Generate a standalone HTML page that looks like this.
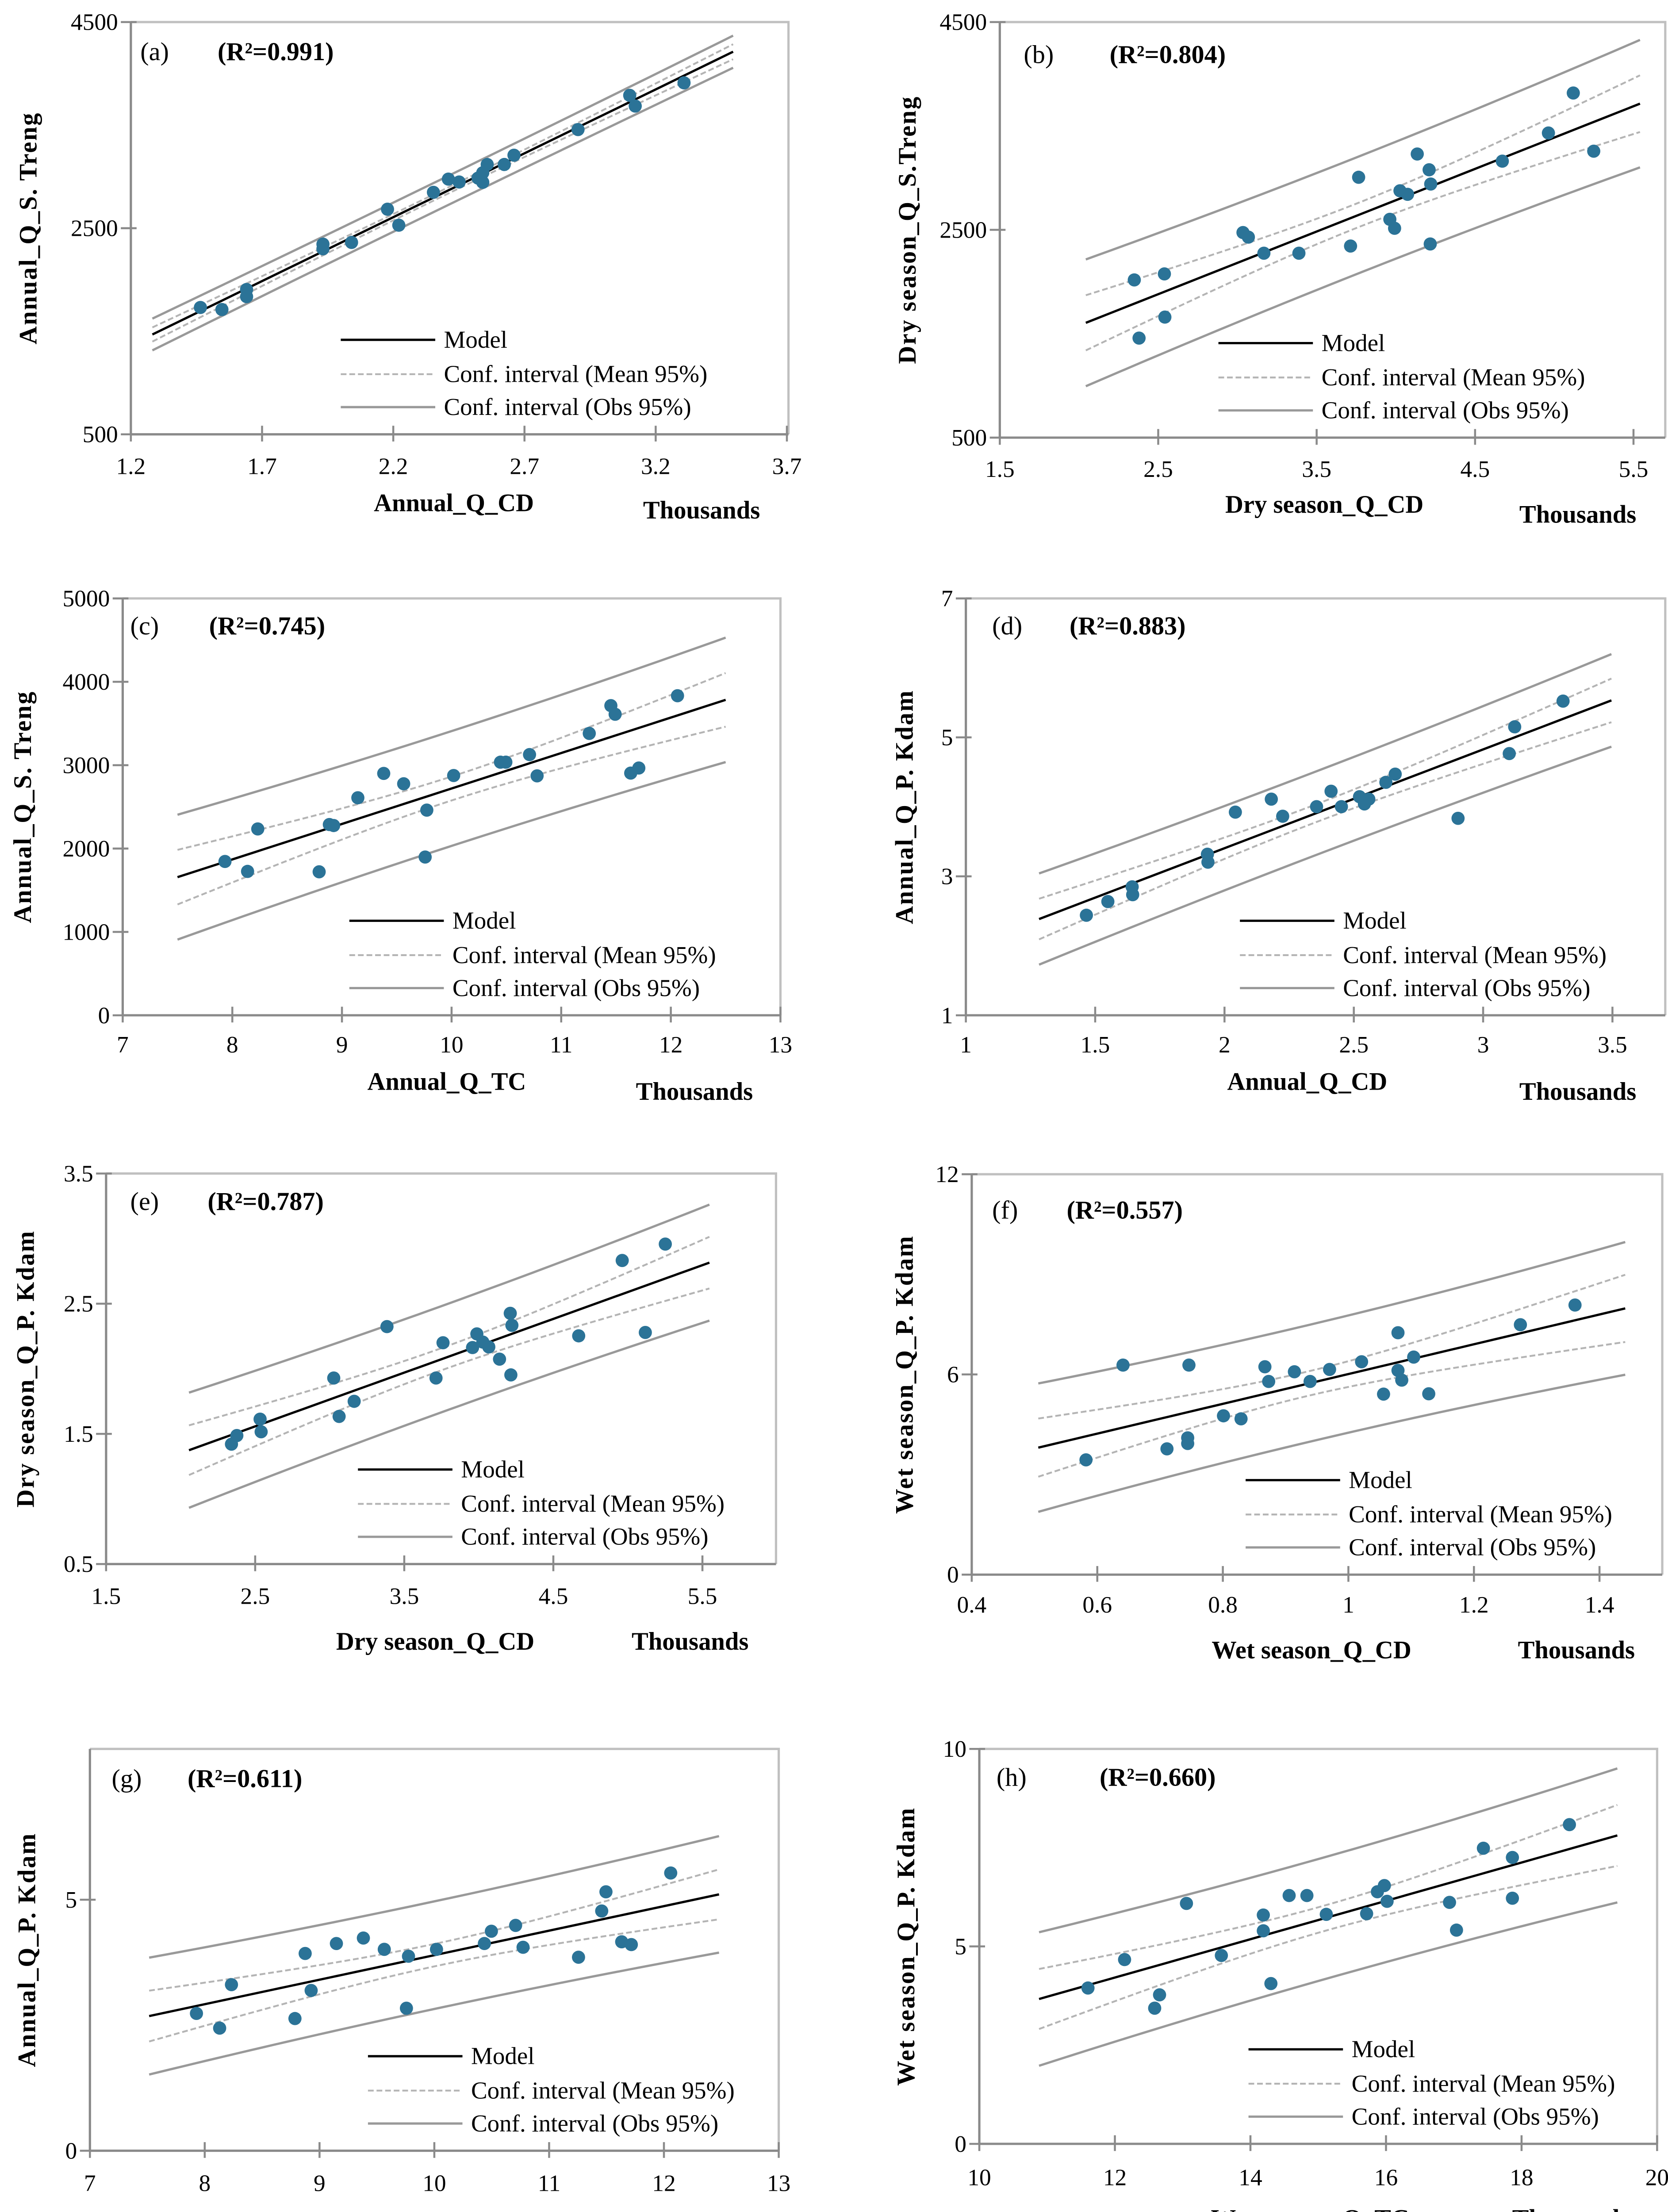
<!DOCTYPE html>
<html><head><meta charset="utf-8"><title>Regression panels</title>
<style>
html,body{margin:0;padding:0;background:#fff;}
svg{display:block;}
text{font-family:"Liberation Serif",serif;fill:#000;}
</style></head>
<body>
<svg id="chart" xmlns="http://www.w3.org/2000/svg" width="3771" height="5080" viewBox="0 0 1165 1569.4">
<rect x="0" y="0" width="1165" height="1569.4" fill="#fff"/>
</svg>
<script>
// ---- data (thousands on x) ----
const aX=[1.465,1.547,1.641,1.641,1.932,1.932,2.041,2.178,2.221,2.353,2.410,2.451,2.523,2.541,2.541,2.558,2.623,2.660,2.904,3.101,3.122,3.308];
const aY=[1731,1711,1905,1836,2345,2300,2362,2684,2529,2848,2976,2948,2986,2945,3038,3118,3118,3208,3457,3789,3685,3910];
const bX=[2.349,2.539,2.379,2.542,3.035,3.069,3.167,3.388,3.765,3.714,3.962,3.992,4.026,4.074,4.135,4.210,4.220,4.217,4.672,4.963,5.120,5.249];
const bY=[2018,2076,1458,1660,2474,2430,2275,2275,3006,2344,2601,2515,2876,2842,3230,3078,2941,2364,3161,3432,3817,3257];
const cX=[7.933,8.139,8.232,8.792,8.885,8.924,9.145,9.381,9.563,9.774,9.759,10.019,10.446,10.495,10.711,10.780,11.256,11.453,11.492,11.634,11.708,12.061];
const cY=[1845,1726,2235,1721,2288,2276,2609,2901,2777,2461,1898,2876,3036,3036,3127,2872,3381,3714,3611,2905,2966,3833];
const dX=[1.466,1.549,1.643,1.645,1.934,1.936,2.042,2.181,2.225,2.356,2.412,2.452,2.522,2.541,2.558,2.624,2.660,2.903,3.101,3.122,3.309];
const dY=[2.440,2.637,2.849,2.736,3.318,3.204,3.924,4.111,3.865,4.003,4.225,4.003,4.146,4.042,4.111,4.353,4.471,3.835,4.767,5.152,5.522];
const eX=[2.341,2.377,2.533,2.540,3.027,3.063,3.164,3.384,3.713,3.760,3.958,3.987,4.027,4.067,4.139,4.211,4.222,4.215,4.670,4.962,5.117,5.251];
const eY=[1.421,1.487,1.613,1.516,1.929,1.634,1.750,2.324,1.929,2.200,2.163,2.268,2.205,2.168,2.074,2.426,2.334,1.953,2.253,2.832,2.279,2.958];
const fX=[0.582,0.641,0.711,0.744,0.744,0.746,0.801,0.829,0.867,0.873,0.914,0.939,0.970,1.021,1.056,1.079,1.079,1.085,1.104,1.128,1.274,1.361];
const fY=[3.44,6.28,3.77,4.10,3.93,6.28,4.76,4.67,6.23,5.79,6.08,5.79,6.15,6.38,5.41,7.25,6.12,5.83,6.52,5.42,7.49,8.08];
const gX=[7.928,8.130,8.233,8.786,8.875,8.927,9.147,9.382,9.564,9.775,9.757,10.019,10.436,10.497,10.708,10.773,11.256,11.458,11.495,11.632,11.716,12.059];
const gY=[2.735,2.442,3.308,2.633,3.929,3.192,4.127,4.236,4.011,3.874,2.838,4.011,4.127,4.372,4.488,4.052,3.854,4.775,5.157,4.161,4.106,5.532];
const hX=[11.603,12.143,12.587,12.659,13.056,13.571,14.190,14.190,14.302,14.571,14.833,15.119,15.714,15.873,15.976,16.016,16.937,17.040,17.437,17.865,17.865,18.706];
const hY=[3.946,4.666,3.435,3.773,6.088,4.770,5.794,5.395,4.059,6.288,6.288,5.811,5.828,6.383,6.540,6.141,6.114,5.412,7.485,7.251,6.219,8.083];
// tick labels
const aXT=[1.2,1.7,2.2,2.7,3.2,3.7], aYT=[500,2500,4500];
const bXT=[1.5,2.5,3.5,4.5,5.5], bYT=[500,2500,4500];
const cXT=[7,8,9,10,11,12,13], cYT=[0,1000,2000,3000,4000,5000];
const dXT=[1,1.5,2,2.5,3,3.5], dYT=[1,3,5,7];
const eXT=[1.5,2.5,3.5,4.5,5.5], eYT=[0.5,1.5,2.5,3.5];
const fXT=[0.4,0.6,0.8,1,1.2,1.4], fYT=[0,6,12];
const gXT=[7,8,9,10,11,12,13], gYT=[0,5];
const hXT=[10,12,14,16,18,20], hYT=[0,5,10];
const r2Labels=["0.991","0.804","0.745","0.883","0.787","0.557","0.611","0.660"];

const NS="http://www.w3.org/2000/svg";
const svg=document.getElementById('chart');
function mk(tag,attrs,parent){const e=document.createElementNS(NS,tag);for(const k in attrs)e.setAttribute(k,attrs[k]);(parent||svg).appendChild(e);return e;}

const panels=[
 {id:'a',X:aX,Y:aY,xt:aXT,yt:aYT,xd:[1.2,3.7],yd:[500,4500],px:[91.4,549.6],py:[303.3,15.4],rx:550.7,top:15.4,lx:[1.282,3.495],
  ytitle:"Annual_Q_S. Treng",ytx:20,xtitle:"Annual_Q_CD",xtc:[317,357],thc:[490,362],tlb:331,lab:[98,42],r2x:152,legX:238},
 {id:'b',X:bX,Y:bY,xt:bXT,yt:bYT,xd:[1.5,5.5],yd:[500,4500],px:[698.3,1140.9],py:[305.6,15.4],rx:1163.1,top:15.4,lx:[2.043,5.541],
  ytitle:"Dry season_Q_S.Treng",ytx:634,xtitle:"Dry season_Q_CD",xtc:[925,358],thc:[1102,365],tlb:333,lab:[715,44],r2x:775,legX:851},
 {id:'c',X:cX,Y:cY,xt:cXT,yt:cYT,xd:[7,13],yd:[0,5000],px:[85.7,545.1],py:[709.0,417.9],rx:545.1,top:417.9,lx:[7.5,12.5],
  ytitle:"Annual_Q_S. Treng",ytx:16,xtitle:"Annual_Q_TC",xtc:[312,761],thc:[485,768],tlb:735,lab:[91,443],r2x:146,legX:244},
 {id:'d',X:dX,Y:dY,xt:dXT,yt:dYT,xd:[1,3.5],yd:[1,7],px:[674.6,1126.2],py:[709.0,417.9],rx:1163.1,top:417.9,lx:[1.283,3.496],
  ytitle:"Annual_Q_P. Kdam",ytx:632,xtitle:"Annual_Q_CD",xtc:[913,761],thc:[1102,768],tlb:735,lab:[693,443],r2x:747,legX:866},
 {id:'e',X:eX,Y:eY,xt:eXT,yt:eYT,xd:[1.5,5.5],yd:[0.5,3.5],px:[74.1,490.6],py:[1092.2,819.5],rx:542.0,top:819.5,lx:[2.056,5.547],
  ytitle:"Dry season_Q_P. Kdam",ytx:18,xtitle:"Dry season_Q_CD",xtc:[304,1152],thc:[482,1152],tlb:1120,lab:[91,845],r2x:145,legX:250},
 {id:'f',X:fX,Y:fY,xt:fXT,yt:fYT,xd:[0.4,1.5],yd:[0,12],px:[678.7,1161],py:[1099.6,820],rx:1161,top:820,lx:[0.506,1.441],
  ytitle:"Wet season_Q_P. Kdam",ytx:632,xtitle:"Wet season_Q_CD",xtc:[916,1158],thc:[1101,1158],tlb:1126,lab:[693,851],r2x:745,legX:870},
 {id:'g',X:gX,Y:gY,xt:gXT,yt:gYT,xd:[7,13],yd:[0,5],px:[62.8,543.9],py:[1501.9,1326.6],rx:543.9,top:1221.3,lx:[7.516,12.48],
  ytitle:"Annual_Q_P. Kdam",ytx:19,xtitle:"Annual_Q_TC",xtc:[300,1558],thc:[484,1558],tlb:1530,lab:[78,1248],r2x:131,legX:257},
 {id:'h',X:hX,Y:hY,xt:hXT,yt:hYT,xd:[10,20],yd:[0,10],px:[684.0,1157.4],py:[1497.1,1221.3],rx:1157.4,top:1221.3,lx:[10.881,19.413],
  ytitle:"Wet season_Q_P. Kdam",ytx:633,xtitle:"Wet season_Q_TC",xtc:[915,1555],thc:[1097,1555],tlb:1526,lab:[696,1247],r2x:768,legX:872}
];

const T=2.09;
function fit(xs,ys){
  const n=xs.length;let mx=0,my=0;for(let i=0;i<n;i++){mx+=xs[i];my+=ys[i];}mx/=n;my/=n;
  let sxx=0,sxy=0;for(let i=0;i<n;i++){sxx+=(xs[i]-mx)**2;sxy+=(xs[i]-mx)*(ys[i]-my);}
  const b=sxy/sxx,a=my-b*mx;let sse=0;for(let i=0;i<n;i++){sse+=(ys[i]-a-b*xs[i])**2;}
  return {a,b,n,mx,sxx,s:Math.sqrt(sse/(n-2))};
}

panels.forEach((p,pi)=>{
  const g=mk('g',{});
  
  
  const sx=v=>p.px[0]+(v-p.xd[0])/(p.xd[1]-p.xd[0])*(p.px[1]-p.px[0]);
  const sy=v=>p.py[0]+(v-p.yd[0])/(p.yd[1]-p.yd[0])*(p.py[1]-p.py[0]);
  const L=p.px[0],B=p.py[0],R=p.rx,Tp=p.top;
  const fr=mk('path',{d:`M${L},${Tp} H${R} V${B}`,fill:'none',stroke:'#c0c0c0','stroke-width':1.6},g);
  
  
  const ya=mk('line',{x1:L,y1:Tp,x2:L,y2:B,stroke:'#8a8a8a','stroke-width':1.6},g);
  
  
  const xa=mk('line',{x1:L,y1:B,x2:R,y2:B,stroke:'#8a8a8a','stroke-width':1.6},g);
  
  
  p.xt.forEach(v=>{
    const x=sx(v);
    mk('line',{x1:x,y1:B-6,x2:x,y2:B+5,stroke:'#8a8a8a','stroke-width':1.4},g);
    const t=mk('text',{x:x,y:p.tlb,'text-anchor':'middle','font-size':16.5},g);
    t.textContent=String(v);
    
    
  });
  p.yt.forEach(v=>{
    const y=sy(v);
    mk('line',{x1:L-7,y1:y,x2:L+4,y2:y,stroke:'#8a8a8a','stroke-width':1.4},g);
    const t=mk('text',{x:L-9,y:y+5.5,'text-anchor':'end','font-size':16.5},g);
    t.textContent=String(v);
    
    
  });
  const F=fit(p.X,p.Y);
  const N=50;
  function path(fn){let d='';for(let i=0;i<=N;i++){const x=p.lx[0]+(p.lx[1]-p.lx[0])*i/N;d+=(i?'L':'M')+sx(x).toFixed(2)+','+sy(fn(x)).toFixed(2);}return d;}
  const yh=x=>F.a+F.b*x;
  const se=(x,k)=>T*F.s*Math.sqrt(k+1/F.n+(x-F.mx)**2/F.sxx);
  const o1=mk('path',{d:path(x=>yh(x)+se(x,1)),fill:'none',stroke:'#999','stroke-width':1.6},g);
  
  
  const o2=mk('path',{d:path(x=>yh(x)-se(x,1)),fill:'none',stroke:'#999','stroke-width':1.6},g);
  
  
  const m1=mk('path',{d:path(x=>yh(x)+se(x,0)),fill:'none',stroke:'#b4b4b4','stroke-width':1.3,'stroke-dasharray':'4,2'},g);
  
  
  const m2=mk('path',{d:path(x=>yh(x)-se(x,0)),fill:'none',stroke:'#b4b4b4','stroke-width':1.3,'stroke-dasharray':'4,2'},g);
  
  
  const ml=mk('path',{d:path(yh),fill:'none',stroke:'#000','stroke-width':1.6},g);
  
  
  p.X.forEach((xv,i)=>{
    const c=mk('circle',{cx:sx(xv),cy:sy(p.Y[i]),r:4.6,fill:'#2b7397'},g);
    
    
  });
  const rows=[B-66,B-42,B-19];
  const items=[["Model",'#000',1.6,null],["Conf. interval (Mean 95%)",'#b4b4b4',1.3,'4,2'],["Conf. interval (Obs 95%)",'#999',1.6,null]];
  items.forEach((it,k)=>{
    const ln=mk('line',{x1:p.legX,y1:rows[k],x2:p.legX+66,y2:rows[k],stroke:it[1],'stroke-width':it[2]},g);
    if(it[3])ln.setAttribute('stroke-dasharray',it[3]);
    
    
    const t=mk('text',{x:p.legX+72,y:rows[k]+5.5,'font-size':17},g);
    t.textContent=it[0];
    
    
  });
  const pl=mk('text',{x:p.lab[0],y:p.lab[1],'font-size':18},g);
  pl.textContent='('+p.id+')';
  
  
  const rl=mk('text',{x:p.r2x,y:p.lab[1],'font-size':18,'font-weight':'bold'},g);
  rl.textContent='(R\u00B2='+r2Labels[pi]+')';
  
  
  const xt=mk('text',{x:p.xtc[0],y:p.xtc[1],'text-anchor':'middle','font-size':17.5,'font-weight':'bold'},g);
  xt.textContent=p.xtitle;
  
  
  const th=mk('text',{x:p.thc[0],y:p.thc[1],'text-anchor':'middle','font-size':17.5,'font-weight':'bold'},g);
  th.textContent='Thousands';
  
  
  const cy=(Tp+B)/2;
  const yt=mk('text',{x:p.ytx,y:cy,'text-anchor':'middle','font-size':17.5,'font-weight':'bold','letter-spacing':'0.8',transform:`rotate(-90 ${p.ytx} ${cy})`,'dominant-baseline':'central'},g);
  yt.textContent=p.ytitle;
  
  
});
</script>
</body></html>
